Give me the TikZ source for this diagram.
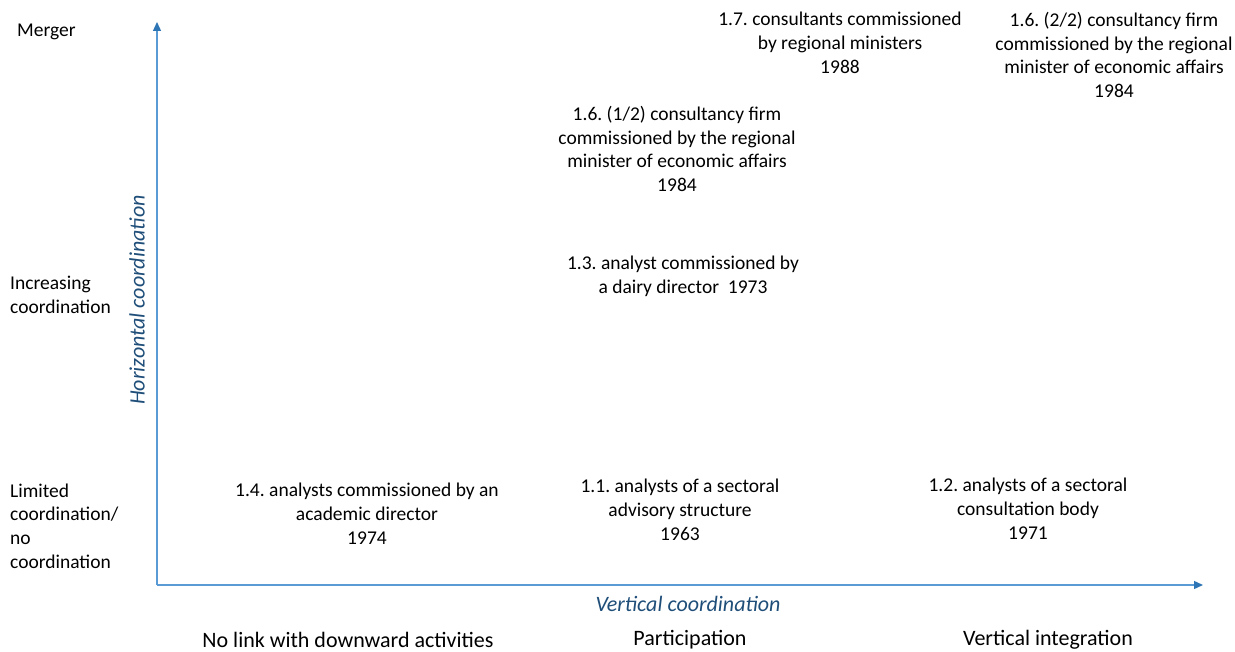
\documentclass[tikz,border=0pt]{standalone}
\usepackage{fontspec}
\setmainfont{Carlito}
\usetikzlibrary{arrows.meta}
\frenchspacing
\definecolor{axisline}{HTML}{5B9BD5}
\definecolor{axistip}{HTML}{2E75B6}
\definecolor{axislabel}{HTML}{1F4E79}
\tikzset{
    txt/.style={align=center,inner sep=0pt,font=\fontsize{19.5}{23.8}\selectfont},
    collabel/.style={inner sep=0pt,font=\fontsize{22}{26}\selectfont},
    rowlabel/.style={align=left,anchor=west,inner sep=0pt,font=\fontsize{19.5}{23.8}\selectfont},
    axistitle/.style={inner sep=0pt,text=axislabel,font=\fontsize{22}{26}\selectfont\itshape}
}
\begin{document}
\begin{tikzpicture}[x=1pt,y=-1pt,>={Triangle[length=9pt,width=8pt,color=axistip]}]
            \useasboundingbox (0,0) rectangle (1235,652);
            % draw the axes
            \coordinate (origin) at (157,585);
            \coordinate (ytop) at (157,22);
            \coordinate (xend) at (1203,585);
            \draw[->,axisline,line width=1.3pt] (origin) -- (ytop);
            \draw[->,axisline,line width=1.3pt] (origin) -- (xend);
            \node[axistitle,rotate=90] (horiz) at (137,300) {Horizontal coordination};
            \node[axistitle] (vert) at (688,604) {Vertical coordination};
            % row labels
            \node[rowlabel] (merger) at (17,32) {Merger};
            \node[rowlabel] (increasing) at (10,295) {Increasing\\coordination};
            \node[rowlabel] (limited) at (10,526) {Limited\\coordination/\\no\\coordination};
            % column labels
            \node[collabel] (nolink) at (348,640) {No link with downward activities};
            \node[collabel] (particip) at (690,640) {Participation};
            \node[collabel] (integr) at (1048,640) {Vertical integration};
            % cases
            \node[txt] (c14) at (367,514) {1.4. analysts commissioned by an\\academic director\\1974};
            \node[txt] (c11) at (680,510) {1.1. analysts of a sectoral\\advisory structure\\1963};
            \node[txt] (c12) at (1028,509) {1.2. analysts of a sectoral\\consultation body\\1971};
            \node[txt] (c13) at (683,276) {1.3. analyst commissioned by\\a dairy director~ 1973};
            \node[txt] (c16a) at (677,149) {1.6. (1/2) consultancy firm\\commissioned by the regional\\minister of economic affairs\\1984};
            \node[txt] (c17) at (840,43) {1.7. consultants commissioned\\by regional ministers\\1988};
            \node[txt] (c16b) at (1114,55) {1.6. (2/2) consultancy firm\\commissioned by the regional\\minister of economic affairs\\1984};
        \end{tikzpicture}
\end{document}
